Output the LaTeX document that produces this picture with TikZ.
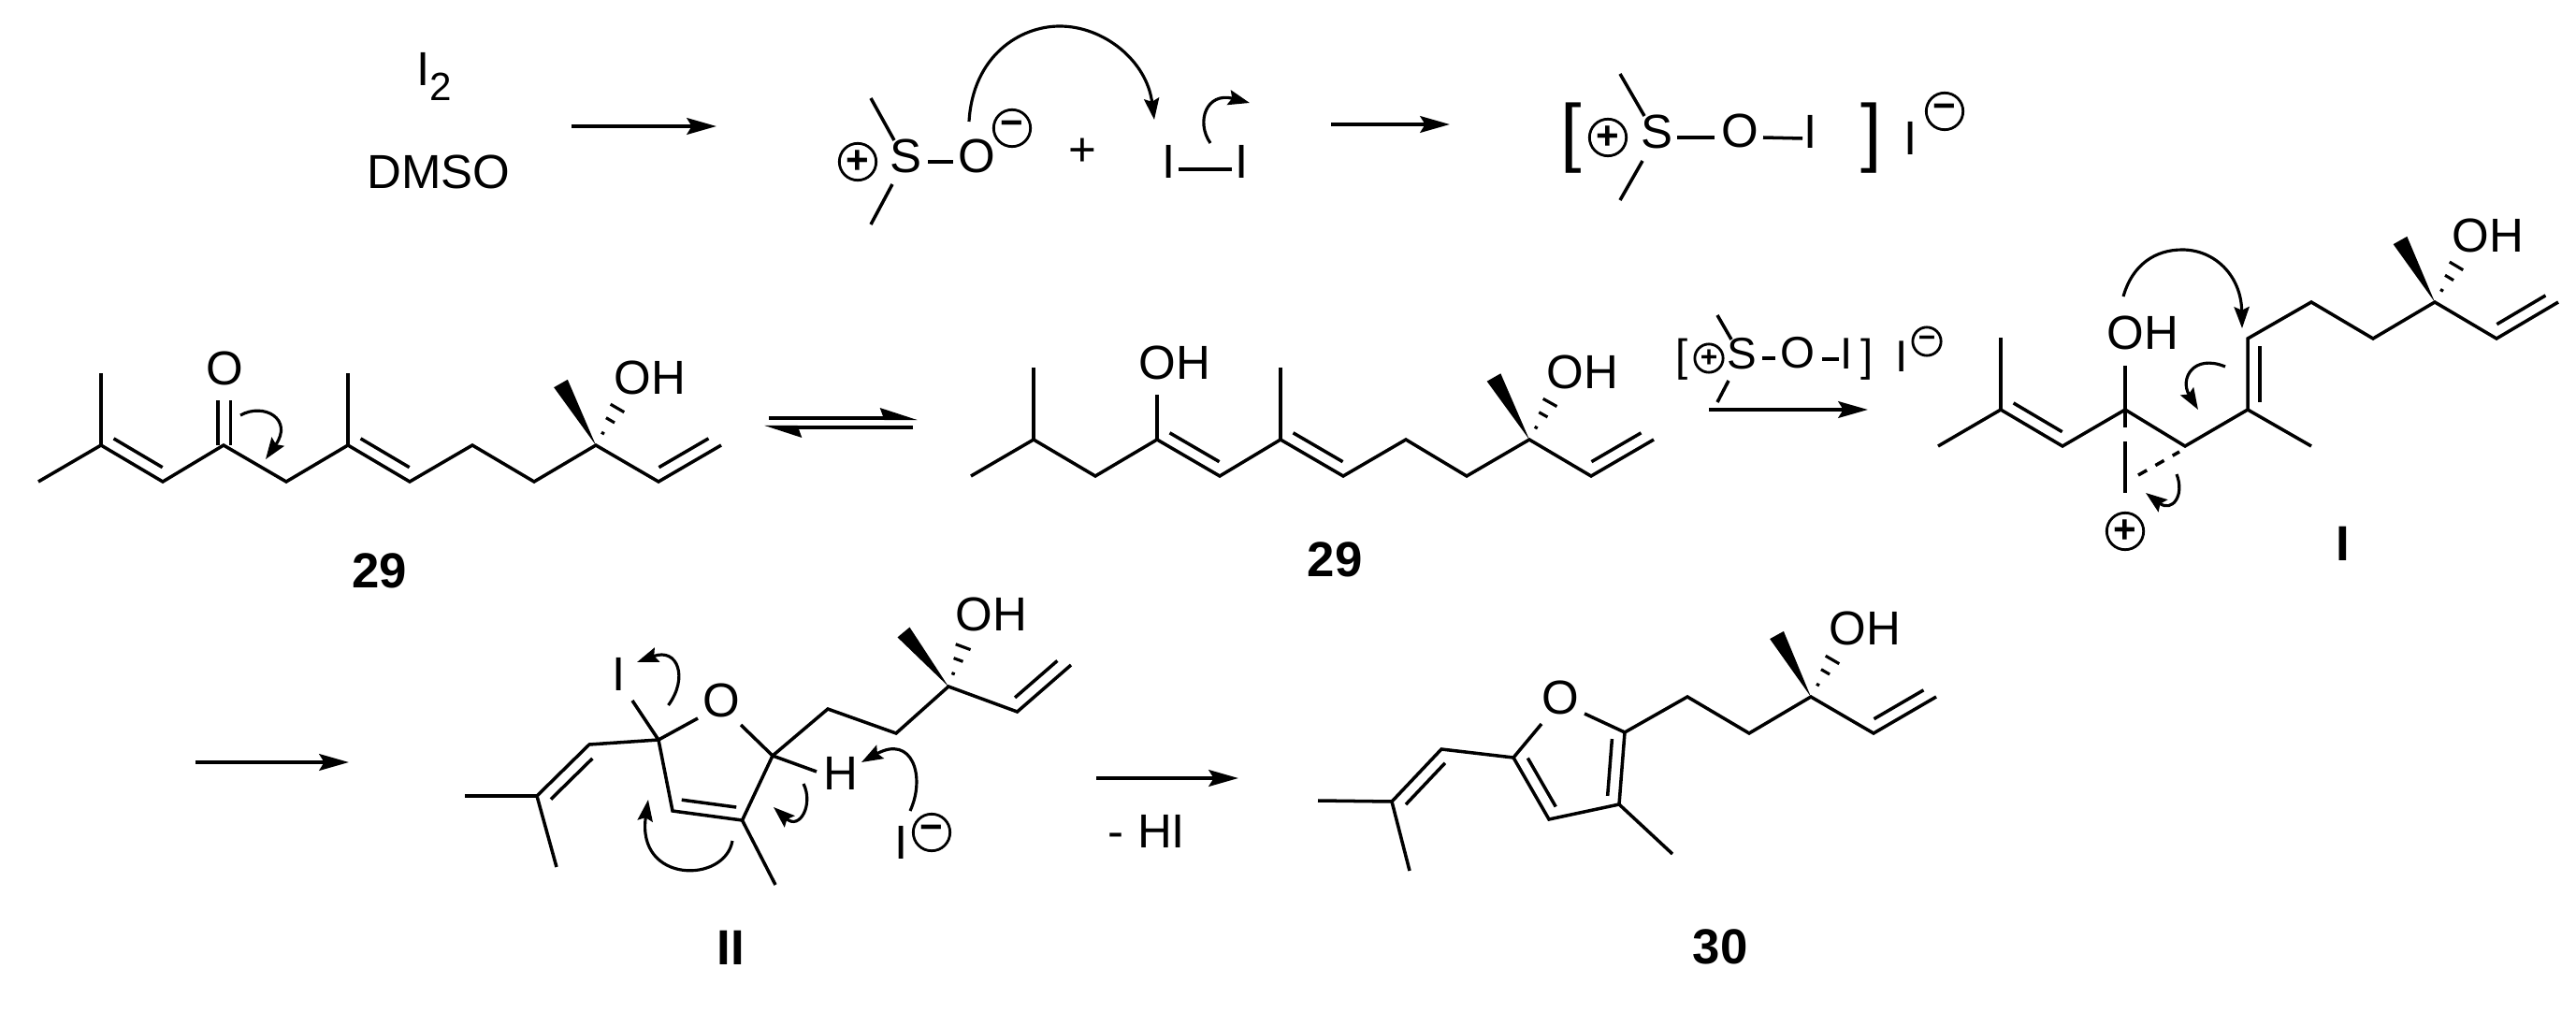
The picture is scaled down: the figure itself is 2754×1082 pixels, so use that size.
\documentclass[tikz,border=0pt]{standalone}
\usepackage{fontspec}
\setmainfont{Liberation Sans}
\usetikzlibrary{arrows.meta,calc}

\tikzset{
  bond/.style={line width=1pt},
  atom/.style={inner sep=0pt, outer sep=0pt, font=\fontsize{14.5}{17}\selectfont},
  smallatom/.style={inner sep=0pt, outer sep=0pt, font=\fontsize{13.5}{16}\selectfont},
  cmpd/.style={inner sep=0pt, outer sep=0pt, font=\fontsize{15}{18}\selectfont\bfseries},
  charge/.style={circle, draw, line width=.8pt, inner sep=0pt, outer sep=0pt, minimum size=11.2pt, font=\fontsize{12}{12}\selectfont\bfseries},
  smallcharge/.style={charge, minimum size=8.6pt, font=\fontsize{9}{9}\selectfont\bfseries},
  rxn/.style={line width=1.15pt, -{Stealth[length=9pt,width=5pt,inset=1.5pt]}},
  eqm/.style={line width=1.15pt, -{Stealth[harpoon,length=9.5pt,width=6pt,inset=1pt]}},
  curly/.style={line width=.9pt, -{Stealth[length=6.5pt,width=4.6pt,inset=1pt]}}
}

\newcommand{\innerbond}[2]{\draw[bond] ($(#1)!2.3pt!(#2)!3.7pt!90:(#2)$) -- ($(#2)!2.3pt!(#1)!3.7pt!-90:(#1)$);}
\newcommand{\wedgebond}[2]{\fill (#1) -- ($(#2)!2.4pt!90:(#1)$) -- ($(#2)!2.4pt!-90:(#1)$) -- cycle;}
\newcommand{\hashbond}[2]{\foreach \posn/\halfw in {.3/.5pt,.62/1.5pt,.92/2.4pt}
  \draw[line width=.9pt] ($(#1)!\posn!(#2)!\halfw!90:(#2)$) -- ($(#1)!\posn!(#2)!\halfw!-90:(#2)$);}

\begin{document}
\begin{tikzpicture}[x=0.01cm, y=-0.01cm]
    \useasboundingbox (0,0) rectangle (2754,1082);

    % Top row: reagents
    \node[atom, anchor=base west] (iodine) at (445,92) {I\raisebox{-4.3pt}{\fontsize{12}{14}\selectfont 2}};
    \node[atom] (dmso) at (469,184) {DMSO};
    \coordinate (r1s) at (611,135); \coordinate (r1e) at (766,135);
    \draw[rxn] (r1s) -- (r1e);

    % Top row: activated DMSO plus iodine
    \node[charge] (ap) at (917,173) {+};
    \node[atom] (as) at (968,167) {S};
    \node[atom] (ao) at (1044,167) {O};
    \node[charge] (am) at (1082,137) {−};
    \node[atom] (plus) at (1157,163) {+};
    \node[atom] (il) at (1250,173) {I};
    \node[atom] (ir) at (1328,173) {I};
    \coordinate (am1) at (931,105); \coordinate (am2) at (956,150);
    \coordinate (am3) at (954,197); \coordinate (am4) at (931,240);
    \coordinate (asb) at (992,173); \coordinate (aob) at (1019,173);
    \coordinate (ilb) at (1260,181); \coordinate (irb) at (1317,181);
    \draw[bond] (am1) -- (am2);
    \draw[bond] (am3) -- (am4);
    \draw[bond] (asb) -- (aob);
    \draw[bond] (ilb) -- (irb);
    \coordinate (c1s) at (1036,130); \coordinate (c1t) at (1133,28); \coordinate (c1e) at (1234,128);
    \draw[curly] (c1s) .. controls (1040,60) and (1090,28) .. (c1t) .. controls (1180,28) and (1226,65) .. (c1e);
    \coordinate (c2s) at (1294,153); \coordinate (c2e) at (1336,110);
    \draw[curly] (c2s) .. controls (1278,130) and (1290,98) .. (c2e);
    \coordinate (r2s) at (1423,133); \coordinate (r2e) at (1550,133);
    \draw[rxn] (r2s) -- (r2e);

    % Top row: iodo sulfonium salt
    \node[font=\fontsize{23}{26}\selectfont, inner sep=0pt] (bl) at (1680,147.5) {[};
    \node[font=\fontsize{23}{26}\selectfont, inner sep=0pt] (br) at (2001,147.5) {]};
    \node[charge] (bp) at (1719,147) {+};
    \node[atom] (bs) at (1771,141) {S};
    \node[atom] (bo) at (1860,140) {O};
    \node[atom] (bi) at (1936,141) {I};
    \node[atom] (bi2) at (2043,148) {I};
    \node[charge] (bm) at (2079,119) {−};
    \coordinate (bm1) at (1732,79); \coordinate (bm2) at (1758,124);
    \coordinate (bm3) at (1756,172); \coordinate (bm4) at (1732,214);
    \coordinate (b1) at (1793,147); \coordinate (b2) at (1833,147);
    \coordinate (b3) at (1885,147); \coordinate (b4) at (1927,148);
    \draw[bond] (bm1) -- (bm2);
    \draw[bond] (bm3) -- (bm4);
    \draw[bond] (b1) -- (b2);
    \draw[bond] (b3) -- (b4);

    % Ketone 29
    \coordinate (k1) at (41,515); \coordinate (k2) at (108,476); \coordinate (k2m) at (108,399);
    \coordinate (k3) at (174,515); \coordinate (k4) at (239,476); \coordinate (k5) at (306,515);
    \coordinate (k6) at (372,476); \coordinate (k6m) at (372,399); \coordinate (k7) at (438,515);
    \coordinate (k8) at (505,476); \coordinate (k9) at (571,515); \coordinate (k10) at (637,476);
    \coordinate (k11) at (704,515); \coordinate (k12) at (771,476);
    \coordinate (kw) at (599.5,410); \coordinate (kh) at (662,433);
    \coordinate (ko1) at (233,476); \coordinate (ko2) at (233,428);
    \coordinate (ko3) at (246.5,476); \coordinate (ko4) at (246.5,428);
    \draw[bond] (k1) -- (k2) -- (k3) -- (k4) -- (k5) -- (k6) -- (k7) -- (k8) -- (k9) -- (k10) -- (k11) -- (k12);
    \draw[bond] (k2) -- (k2m);
    \draw[bond] (k6) -- (k6m);
    \draw[bond] (ko1) -- (ko2);
    \draw[bond] (ko3) -- (ko4);
    \innerbond{k2}{k3}
    \innerbond{k6}{k7}
    \innerbond{k11}{k12}
    \wedgebond{k10}{kw}
    \hashbond{k10}{kh}
    \node[atom] (ko) at (240,394) {O};
    \node[atom] (koh) at (695,404) {OH};
    \node[cmpd] (kname) at (406,610) {29};
    \coordinate (c3s) at (257,444); \coordinate (c3e) at (284,491);
    \draw[curly] (c3s) .. controls (282,430) and (314,448) .. (c3e);

    % Equilibrium
    \coordinate (e1s) at (822,447); \coordinate (e1e) at (981,447);
    \coordinate (e2s) at (976,457); \coordinate (e2e) at (817,457);
    \draw[eqm] (e1s) -- (e1e);
    \draw[eqm] (e2s) -- (e2e);

    % Enol 29
    \coordinate (n1) at (1038,509); \coordinate (n2) at (1105,470); \coordinate (n2m) at (1105,393);
    \coordinate (n3) at (1171,509); \coordinate (n4) at (1237,470); \coordinate (n4o) at (1237,422);
    \coordinate (n5) at (1304,509); \coordinate (n6) at (1369,470); \coordinate (n6m) at (1369,393);
    \coordinate (n7) at (1436,509); \coordinate (n8) at (1503,470); \coordinate (n9) at (1568,509);
    \coordinate (n10) at (1635,470); \coordinate (n11) at (1701,509); \coordinate (n12) at (1768,470);
    \coordinate (nw) at (1597,403.5); \coordinate (nh) at (1659,427);
    \draw[bond] (n1) -- (n2) -- (n3) -- (n4) -- (n5) -- (n6) -- (n7) -- (n8) -- (n9) -- (n10) -- (n11) -- (n12);
    \draw[bond] (n2) -- (n2m);
    \draw[bond] (n4) -- (n4o);
    \draw[bond] (n6) -- (n6m);
    \innerbond{n4}{n5}
    \innerbond{n6}{n7}
    \innerbond{n11}{n12}
    \wedgebond{n10}{nw}
    \hashbond{n10}{nh}
    \node[atom] (noh) at (1256,388) {OH};
    \node[atom] (noh2) at (1692,398) {OH};
    \node[cmpd] (nname) at (1427,598) {29};

    % Reagent over arrow
    \node[smallatom] (sl) at (1798.5,384.5) {[};
    \node[smallatom] (sr) at (1996.5,384.5) {]};
    \node[smallcharge] (sp) at (1827,383) {+};
    \node[smallatom] (ss) at (1862,378) {S};
    \node[smallatom] (so) at (1922,377) {O};
    \node[smallatom] (si) at (1974,378) {I};
    \node[smallatom] (si2) at (2033,381) {I};
    \node[smallcharge] (sm) at (2060,365) {−};
    \coordinate (sm1) at (1836,337); \coordinate (sm2) at (1851,363);
    \coordinate (sm3) at (1848,407); \coordinate (sm4) at (1836,430);
    \coordinate (s1) at (1884,383); \coordinate (s2) at (1898,383);
    \coordinate (s3) at (1948,384); \coordinate (s4) at (1966,384);
    \draw[bond] (sm1) -- (sm2);
    \draw[bond] (sm3) -- (sm4);
    \draw[bond] (s1) -- (s2);
    \draw[bond] (s3) -- (s4);
    \coordinate (r3s) at (1827,438); \coordinate (r3e) at (1997,438);
    \draw[rxn] (r3s) -- (r3e);

    % Iodonium I
    \coordinate (i1) at (2072,477); \coordinate (i2) at (2139,438); \coordinate (i2m) at (2139,361);
    \coordinate (i3) at (2205,477); \coordinate (i4) at (2272,438); \coordinate (i4o) at (2272,391);
    \coordinate (i4d) at (2272,457); \coordinate (i5) at (2336,477); \coordinate (i6) at (2403,438);
    \coordinate (i6m) at (2471,477); \coordinate (i7) at (2403,362); \coordinate (i8) at (2471,323);
    \coordinate (i9) at (2537,362); \coordinate (i10) at (2603,323); \coordinate (i11) at (2669,362);
    \coordinate (i12) at (2735,323);
    \coordinate (iw) at (2566,257); \coordinate (ih) at (2628,281);
    \coordinate (il1) at (2272,472); \coordinate (il2) at (2272,527);
    \coordinate (id1) at (2286,508); \coordinate (id2) at (2330,483);
    \draw[bond] (i1) -- (i2) -- (i3) -- (i4) -- (i5) -- (i6) -- (i7) -- (i8) -- (i9) -- (i10) -- (i11) -- (i12);
    \draw[bond] (i2) -- (i2m);
    \draw[bond] (i4o) -- (i4d);
    \draw[bond] (i6) -- (i6m);
    \draw[bond] (il1) -- (il2);
    \draw[bond, dash pattern=on 3pt off 3pt] (id1) -- (id2);
    \innerbond{i2}{i3}
    \innerbond{i7}{i6}
    \innerbond{i11}{i12}
    \wedgebond{i10}{iw}
    \hashbond{i10}{ih}
    \node[atom] (ioh) at (2291,356) {OH};
    \node[atom] (ioh2) at (2660,252) {OH};
    \node[charge] (ip) at (2272,568) {+};
    \node[cmpd] (iname) at (2505,581) {I};
    \coordinate (c4s) at (2270,317); \coordinate (c4t) at (2333,267); \coordinate (c4e) at (2397,351);
    \draw[curly] (c4s) .. controls (2280,282) and (2305,267) .. (c4t) .. controls (2368,267) and (2396,295) .. (c4e);
    \coordinate (c5s) at (2379,392); \coordinate (c5e) at (2350,438);
    \draw[curly] (c5s) .. controls (2345,378) and (2330,405) .. (c5e);
    \coordinate (c6s) at (2327,507); \coordinate (c6e) at (2294,527);
    \draw[curly] (c6s) .. controls (2336,530) and (2322,548) .. (c6e);

    % Bottom row: arrow into II
    \coordinate (r4s) at (209,815); \coordinate (r4e) at (373,815);
    \draw[rxn] (r4s) -- (r4e);

    % Dihydrofuran II
    \coordinate (f1) at (497,851); \coordinate (f2) at (574,851); \coordinate (f2m) at (595,927);
    \coordinate (f3) at (630,796); \coordinate (f4) at (704,791); \coordinate (f4i) at (676,749);
    \coordinate (f4o) at (746,768); \coordinate (f5o) at (792,775); \coordinate (f5) at (826,808);
    \coordinate (f5h) at (873,825); \coordinate (f6) at (793.5,877); \coordinate (f6m) at (829,946);
    \coordinate (f7) at (719,867); \coordinate (f8) at (885,758); \coordinate (f9) at (958,784);
    \coordinate (f10) at (1014,734); \coordinate (f11) at (1087.5,761); \coordinate (f12) at (1145,711);
    \coordinate (fw) at (966,676); \coordinate (fh) at (1031,688);
    \draw[bond] (f1) -- (f2) -- (f3) -- (f4) -- (f7) -- (f6) -- (f5) -- (f8) -- (f9) -- (f10) -- (f11) -- (f12);
    \draw[bond] (f2) -- (f2m);
    \draw[bond] (f4) -- (f4i);
    \draw[bond] (f4) -- (f4o);
    \draw[bond] (f5o) -- (f5) -- (f5h);
    \draw[bond] (f6) -- (f6m);
    \innerbond{f3}{f2}
    \innerbond{f7}{f6}
    \innerbond{f11}{f12}
    \wedgebond{f10}{fw}
    \hashbond{f10}{fh}
    \node[atom] (fi) at (661.5,721) {I};
    \node[atom] (fo) at (771,749) {O};
    \node[atom] (fhh) at (899,827) {H};
    \node[atom] (foh) at (1060,657) {OH};
    \node[atom] (fi2) at (964,901) {I};
    \node[charge] (fm) at (996,890) {−};
    \node[cmpd] (fname) at (781,1013) {II};
    \coordinate (c7s) at (714.5,754); \coordinate (c7e) at (681,708);
    \draw[curly] (c7s) .. controls (736,725) and (725,692) .. (c7e);
    \coordinate (c8s) at (973,867); \coordinate (c8e) at (921,815);
    \draw[curly] (c8s) .. controls (990,830) and (975,785) .. (c8e);
    \coordinate (c9s) at (859,838); \coordinate (c9e) at (827,863);
    \draw[curly] (c9s) .. controls (870,860) and (855,888) .. (c9e);
    \coordinate (c10s) at (783,899); \coordinate (c10e) at (693,855);
    \draw[curly] (c10s) .. controls (775,945) and (680,945) .. (c10e);

    % Bottom row: loss of HI
    \coordinate (r5s) at (1172,832); \coordinate (r5e) at (1324,832);
    \draw[rxn] (r5s) -- (r5e);
    \node[atom] (hi) at (1226,889) {- HI};

    % Furan 30
    \coordinate (g1) at (1409,856); \coordinate (g2) at (1488,857); \coordinate (g2m) at (1507,931);
    \coordinate (g3) at (1541,801); \coordinate (g4) at (1618,810); \coordinate (g4o) at (1648,774);
    \coordinate (g5o) at (1694,763); \coordinate (g5) at (1737,783); \coordinate (g6) at (1731,860);
    \coordinate (g7) at (1656,876); \coordinate (g6m) at (1788,913); \coordinate (g8) at (1804,745);
    \coordinate (g9) at (1870,784); \coordinate (g10) at (1936,745); \coordinate (g11) at (2003,784);
    \coordinate (g12) at (2070,745);
    \coordinate (gw) at (1899.5,679); \coordinate (gh) at (1961,702);
    \draw[bond] (g1) -- (g2) -- (g3) -- (g4) -- (g7) -- (g6) -- (g5) -- (g8) -- (g9) -- (g10) -- (g11) -- (g12);
    \draw[bond] (g2) -- (g2m);
    \draw[bond] (g4) -- (g4o);
    \draw[bond] (g5o) -- (g5);
    \draw[bond] (g6) -- (g6m);
    \innerbond{g3}{g2}
    \innerbond{g4}{g7}
    \innerbond{g6}{g5}
    \innerbond{g11}{g12}
    \wedgebond{g10}{gw}
    \hashbond{g10}{gh}
    \node[atom] (go) at (1668,746) {O};
    \node[atom] (goh) at (1994,672) {OH};
    \node[cmpd] (gname) at (1839,1012) {30};
\end{tikzpicture}
\end{document}
